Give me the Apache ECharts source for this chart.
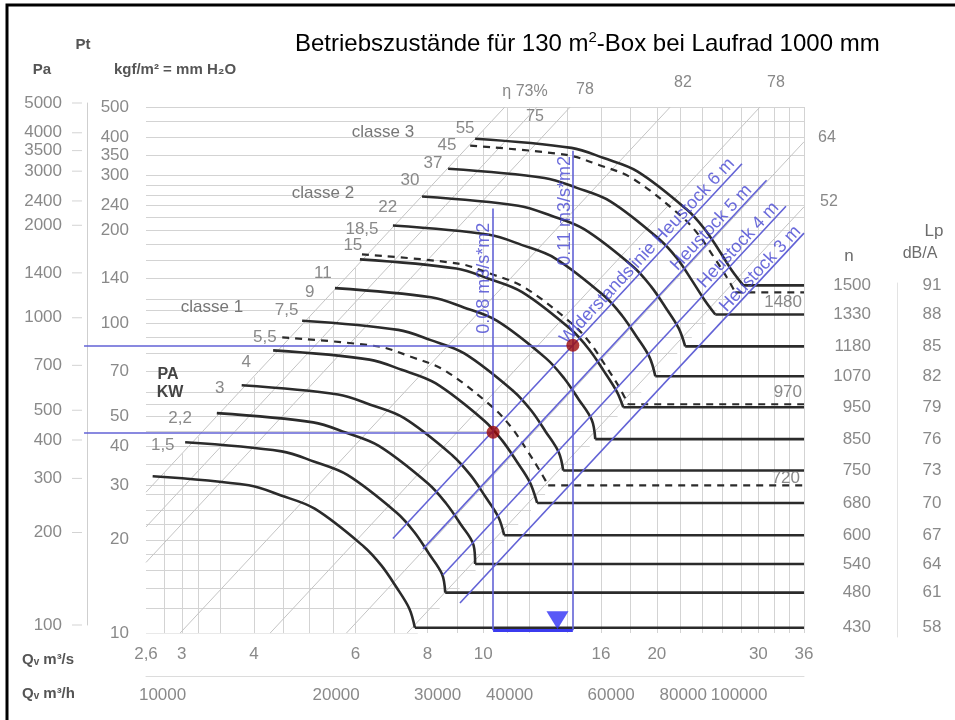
<!DOCTYPE html>
<html>
<head>
<meta charset="utf-8">
<script src="https://cdn.jsdelivr.net/npm/echarts@6.0.0/dist/echarts.min.js"></script>
<style>
html,body{margin:0;padding:0;background:#fff;}
#chart{width:955px;height:720px;}
</style>
</head>
<body>
<div id="chart"></div>
<script>
// ---------------- axis ranges & tick labels ----------------
const qRange = [2.6, 36];          // Qv m³/s (log)
const pRange = [10, 500];          // Pt kgf/m² (log)
const paRange = [100, 5000];       // Pt Pa (log)
const qTicks = [2.6, 3, 4, 6, 8, 10, 16, 20, 30, 36];
const qhTicks = [10000, 20000, 30000, 40000, 60000, 80000, 100000];
const kgfTicks = [10, 20, 30, 40, 50, 70, 100, 140, 200, 240, 300, 350, 400, 500];
const paTicks = [100, 200, 300, 400, 500, 700, 1000, 1400, 2000, 2400, 3000, 3500, 4000, 5000];

// ---------------- background grid ----------------
const gridQ    = [2.8, 3, 3.2, 3.5, 4, 4.5, 5, 5.5, 6, 7, 8, 9, 10, 11, 12, 14, 16, 18, 20, 22, 24, 26, 28, 30, 32, 34, 36];
const gridQTop = [33, 38, 43, 51, 67, 85, 105, 127, 151, 206, 269, 340, 420, 500, 500, 500, 500, 500, 500, 500, 500, 500, 500, 500, 500, 500, 500];
const gridP    = [10, 12, 14, 16, 18, 20, 22.5, 25, 28, 30, 35, 40, 45, 50, 55, 60, 70, 80, 90, 100, 110, 120, 140, 160, 180, 200, 220, 240, 260, 280, 300, 350, 400, 450, 500];
const gridPEnd = [7.7, 8.4, 9.1, 9.7, 10.3, 10.9, 11.5, 12.1, 12.8, 13.3, 14.4, 15.3, 16.3, 17.1, 18.0, 18.8, 20.3, 21.7, 23.0, 24.3, 25.4, 26.6, 28.7, 30.7, 32.5, 34.3, 36, 36, 36, 36, 36, 36, 36, 36, 36];

// ---------------- efficiency lines (grey diagonals) ----------------
const effNames = ['η 73%', '75', '78', '82', '78', '64', '52'];
const effQ1 = [2.6, 2.6, 2.6, 2.98, 4.27, 5.79, 7.38];
const effP1 = [28.5, 22.0, 16.9, 10, 10, 10, 10];
const effQ2 = [10.9, 12.4, 14.15, 21.1, 30.2, 36, 36];
const effP2 = [500, 500, 500, 500, 500, 386, 238];

// ---------------- fan curves: Qv [m³/s], Pt [kgf/m²] ----------------
const q1500 = [9.68, 14.22, 16.18, 18.50, 22.50, 24.16, 25.60, 26.99, 28.25];
const p1500 = [395, 369, 342, 310, 234, 202.5, 173, 148.2, 132.7];
const q1480 = [9.49, 13.94, 15.87, 18.14, 22.05, 23.69, 25.10, 26.46, 27.36];
const p1480 = [375, 350, 325, 294, 222, 192.2, 164, 140.7, 125.9];
const q1330 = [8.69, 12.77, 14.53, 16.61, 20.20, 21.69, 22.99, 24.23, 25.26];
const p1330 = [316, 295, 274, 248, 187, 162.0, 138, 118.6, 106.9];
const q1180 = [7.83, 11.50, 13.09, 14.96, 18.20, 19.54, 20.71, 21.83, 22.40];
const p1180 = [257, 240, 223, 201.5, 152.4, 131.7, 112.6, 96.4, 84.3];
const q1070 = [6.97, 10.24, 11.65, 13.32, 16.20, 17.40, 18.44, 19.43, 19.88];
const p1070 = [207, 193.3, 179.3, 162.3, 122.8, 106.1, 90.7, 77.7, 67.5];
const q970  = [6.16, 9.05, 10.30, 11.77, 14.32, 15.38, 16.29, 17.17, 17.84];
const p970  = [167, 156, 144.6, 130.9, 99.0, 85.6, 73.1, 62.7, 54.8];
const q950  = [6.11, 8.98, 10.22, 11.68, 14.20, 15.25, 16.16, 17.03, 17.49];
const p950  = [161, 150.4, 139.4, 126.2, 95.5, 82.5, 70.5, 60.4, 53.6];
const q850  = [5.53, 8.12, 9.25, 10.57, 12.85, 13.80, 14.63, 15.42, 15.64];
const p850  = [130, 121.4, 112.6, 101.9, 77.1, 66.6, 56.9, 48.8, 42.3];
const q750  = [4.85, 7.12, 8.11, 9.27, 11.27, 12.11, 12.83, 13.52, 13.76];
const p750  = [102, 95.3, 88.3, 80.0, 60.5, 52.3, 44.7, 38.3, 33.5];
const q720  = [4.48, 6.58, 7.49, 8.56, 10.41, 11.18, 11.85, 12.49, 12.96];
const p720  = [90.1, 84.2, 78.0, 70.6, 53.4, 46.2, 39.5, 33.8, 30.0];
const q680  = [4.32, 6.35, 7.22, 8.26, 10.04, 10.78, 11.43, 12.04, 12.40];
const p680  = [81.8, 76.4, 70.8, 64.1, 48.5, 41.9, 35.8, 30.7, 26.3];
const q600  = [3.81, 5.60, 6.37, 7.28, 8.85, 9.51, 10.08, 10.62, 10.87];
const p600  = [63.1, 58.9, 54.6, 49.5, 37.4, 32.3, 27.6, 23.7, 20.7];
const q540  = [3.45, 5.07, 5.77, 6.59, 8.02, 8.61, 9.13, 9.62, 9.68];
const p540  = [51.3, 47.9, 44.4, 40.2, 30.4, 26.3, 22.5, 19.2, 16.7];
const q480  = [3.04, 4.47, 5.08, 5.81, 7.07, 7.59, 8.04, 8.48, 8.59];
const p480  = [41.3, 38.6, 35.8, 32.4, 24.5, 21.2, 18.1, 15.5, 13.5];
const q430  = [2.67, 3.92, 4.46, 5.10, 6.21, 6.66, 7.06, 7.44, 7.61];
const p430  = [32.1, 30.0, 27.8, 25.2, 19.0, 16.5, 14.1, 12.0, 10.4];

const speeds  = [1500, 1480, 1330, 1180, 1070, 970, 950, 850, 750, 720, 680, 600, 540, 480, 430];
const dashedSpeeds = [1480, 970, 720];
const lpValues = {1500: 91, 1330: 88, 1180: 85, 1070: 82, 950: 79, 850: 76, 750: 73, 680: 70, 600: 67, 540: 64, 480: 61, 430: 58};

// motor power labels (kW) placed along the class boundary
const kwNames = ['55', '45', '37', '30', '22', '18,5', '15', '11', '9', '7,5', '5,5', '4', '3', '2,2', '1,5'];
const kwQ = [9.30, 8.65, 8.18, 7.46, 6.83, 6.16, 5.94, 5.27, 5.00, 4.56, 4.18, 3.88, 3.49, 2.98, 2.78];
const kwP = [426, 375, 330, 289, 238, 202, 179, 145, 126, 110, 90.1, 74.8, 61.7, 49.4, 40.4];

// ---------------- system (resistance) lines, blue ----------------
const sysNames = ['Widerstandslinie Heustock 6 m', 'Heustock 5 m', 'Heustock 4 m', 'Heustock 3 m'];
const sysQ1 = [6.97, 7.86, 8.51, 9.11];
const sysP1 = [20.2, 18.7, 15.4, 12.5];
const sysQ2 = [28.1, 31.0, 33.5, 36];
const sysP2 = [328, 290, 239, 195.7];
const sysLabelQ = [19.25, 24.86, 27.7, 30.24];
const sysLabelP = [171, 204, 179, 150];

// operating points
const opQ = [10.4, 14.3];           // 0.08 and 0.11 m3/s*m2 x 130 m2
const opP = [44.5, 85];
const opNames = ['0.08 m3/s*m2', '0.11 m3/s*m2'];
const opLineTop = [235, 361];
const opLabelQ = [10.03, 13.87];
const opLabelP = [140, 231];
const refQStart = 2.03;             // blue horizontals start at the Pa scale
const baseP = 10.2;
const markerQ = 13.45, markerP = 11.0;

// ---------------- build option ----------------
const curveQ = {1500:q1500,1480:q1480,1330:q1330,1180:q1180,1070:q1070,970:q970,950:q950,850:q850,750:q750,720:q720,680:q680,600:q600,540:q540,480:q480,430:q430};
const curveP = {1500:p1500,1480:p1480,1330:p1330,1180:p1180,1070:p1070,970:p970,950:p950,850:p850,750:p750,720:p720,680:p680,600:p600,540:p540,480:p480,430:p430};

const FONT = 'Liberation Sans, Arial, Helvetica, sans-serif';
const GREY = '#6c6c6c';
const BLUE_LINE = '#6262d6';
const BLUE_TEXT = '#4646d2';

function lbl(extra) {
  return Object.assign({show: true, position: 'inside', formatter: '{b}', color: GREY, fontSize: 17, fontFamily: FONT}, extra);
}
function labelSeries(data, label, extra) {
  return Object.assign({
    type: 'scatter', symbolSize: 1, silent: true, clip: false, z: 6,
    itemStyle: {color: 'rgba(0,0,0,0)'}, label: label, data: data,
    xAxisIndex: 0, yAxisIndex: 0
  }, extra || {});
}

const series = [];

// grid
series.push({
  type: 'lines', coordinateSystem: 'cartesian2d', xAxisIndex: 0, yAxisIndex: 0, silent: true, z: 1,
  lineStyle: {color: '#d3d3d3', width: 1, opacity: 1},
  data: gridQ.map((q, i) => ({coords: [[q, pRange[0]], [q, gridQTop[i]]]}))
    .concat(gridP.map((p, i) => ({coords: [[qRange[0], p], [gridPEnd[i], p]]})))
});
// efficiency lines
series.push({
  type: 'lines', coordinateSystem: 'cartesian2d', xAxisIndex: 0, yAxisIndex: 0, silent: true, z: 1,
  lineStyle: {color: '#c4c4c4', width: 1, opacity: 1},
  data: effQ1.map((q, i) => ({coords: [[q, effP1[i]], [effQ2[i], effP2[i]]]}))
});

// fan curves
speeds.forEach(n => {
  const dashed = dashedSpeeds.indexOf(n) >= 0;
  const qs = curveQ[n], ps = curveP[n];
  const ls = {color: '#2b2b2b', width: dashed ? 2.2 : 2.6, type: dashed ? [7, 6] : 'solid'};
  series.push({
    type: 'line', xAxisIndex: 0, yAxisIndex: 0, smooth: 0.35, showSymbol: false, silent: true, z: 3,
    lineStyle: ls, data: qs.map((q, i) => [q, ps[i]])
  });
  series.push({
    type: 'line', xAxisIndex: 0, yAxisIndex: 0, showSymbol: false, silent: true, z: 3,
    lineStyle: ls, data: [[qs[qs.length - 1], ps[ps.length - 1]], [qRange[1], ps[ps.length - 1]]]
  });
});

// blue system lines + reference lines
series.push({
  type: 'lines', coordinateSystem: 'cartesian2d', xAxisIndex: 0, yAxisIndex: 0, silent: true, z: 4, clip: false,
  lineStyle: {color: BLUE_LINE, width: 1.6, opacity: 1},
  data: sysQ1.map((q, i) => ({coords: [[q, sysP1[i]], [sysQ2[i], sysP2[i]]]}))
    .concat(opQ.map((q, i) => ({coords: [[refQStart, opP[i]], [q, opP[i]]]})))
    .concat(opQ.map((q, i) => ({coords: [[q, baseP], [q, opLineTop[i]]]})))
});
series.push({
  type: 'lines', coordinateSystem: 'cartesian2d', xAxisIndex: 0, yAxisIndex: 0, silent: true, z: 4, clip: false,
  lineStyle: {color: '#3b3bef', width: 3, opacity: 1},
  data: [{coords: [[opQ[0], baseP], [opQ[1], baseP]]}]
});
// operating points
series.push({
  type: 'scatter', xAxisIndex: 0, yAxisIndex: 0, silent: true, z: 7, symbolSize: 13,
  itemStyle: {color: '#9c0a0a'}, data: opQ.map((q, i) => [q, opP[i]])
});
// marker triangle
series.push({
  type: 'scatter', xAxisIndex: 0, yAxisIndex: 0, silent: true, z: 7, symbol: 'triangle', symbolRotate: 180,
  symbolSize: [22, 18], itemStyle: {color: '#2f2ff5'}, data: [[markerQ, markerP]]
});

// tick labels
series.push(labelSeries(qTicks.map(q => ({name: String(q).replace('.', ','), value: [q, pRange[0]]})),
  lbl({offset: [0, 21]})));
series.push(labelSeries(qhTicks.map(v => ({name: String(v), value: [v, pRange[0]]})),
  lbl({offset: [0, 62]}), {xAxisIndex: 1}));
series.push(labelSeries(kgfTicks.map(v => ({name: String(v), value: [qRange[0], v]})),
  lbl({offset: [-17, 0], align: 'right'})));
series.push(labelSeries(paTicks.map(v => ({name: String(v), value: [0, v]})),
  lbl({offset: [-25, 0], align: 'right'}), {xAxisIndex: 2, yAxisIndex: 1}));
// Pa tick marks
series.push({
  type: 'scatter', xAxisIndex: 2, yAxisIndex: 1, silent: true, symbol: 'rect', symbolSize: [10, 1],
  symbolOffset: [-10, 0], itemStyle: {color: '#c8c8c8'}, data: paTicks.map(v => [0, v])
});

// speed n and Lp labels (right)
const solid = speeds.filter(n => dashedSpeeds.indexOf(n) < 0);
series.push(labelSeries(solid.map(n => ({name: String(n), value: [qRange[1], curveP[n][curveP[n].length - 1]]})),
  lbl({offset: [67, 0], align: 'right'})));
series.push(labelSeries(solid.map(n => ({name: String(lpValues[n]), value: [qRange[1], curveP[n][curveP[n].length - 1]]})),
  lbl({offset: [128, 0]})));
const dashOffsets = {1480: [-2, 10], 970: [-2, -12], 720: [-4, -7]};
dashedSpeeds.forEach(n => {
  series.push(labelSeries([{name: String(n), value: [qRange[1], curveP[n][curveP[n].length - 1]]}],
    lbl({offset: dashOffsets[n], align: 'right'})));
});

// kW labels
series.push(labelSeries(kwNames.map((s, i) => ({name: s, value: [kwQ[i], kwP[i]]})), lbl({})));

// blue texts
series.push(labelSeries(sysNames.map((s, i) => ({name: s, value: [sysLabelQ[i], sysLabelP[i]]})),
  lbl({rotate: 47, color: BLUE_TEXT, fontSize: 18})));
series.push(labelSeries(opNames.map((s, i) => ({name: s, value: [opLabelQ[i], opLabelP[i]]})),
  lbl({rotate: 90, color: BLUE_TEXT, fontSize: 18})));

function txt(x, y, s, o) {
  o = o || {};
  return {
    type: 'text', x: x, y: y, silent: true, z: 10,
    style: {
      text: s, fill: o.fill || GREY,
      font: (o.bold ? 'bold ' : '') + (o.size || 17) + 'px ' + FONT,
      align: o.align || 'center', textAlign: o.align || 'center',
      verticalAlign: 'middle', textVerticalAlign: 'middle'
    }
  };
}

const option = {
  animation: false,
  backgroundColor: '#ffffff',
  title: {
    text: '{a|Betriebszustände für 130 m}{s|2}{a|-Box bei Laufrad 1000 mm}',
    left: 290, top: 25,
    textStyle: {
      fontWeight: 'normal',
      rich: {
        a: {fontSize: 24, fontFamily: FONT, fontWeight: 'normal', color: '#000', lineHeight: 28},
        s: {fontSize: 15, fontFamily: FONT, fontWeight: 'normal', color: '#000', verticalAlign: 'top', lineHeight: 28}
      }
    }
  },
  grid: [
    {left: 146, right: 151, top: 107, bottom: 87},
    {left: 87, width: 1, top: 103, bottom: 95},
    {left: 897, width: 1, top: 283, bottom: 83}
  ],
  xAxis: [
    {gridIndex: 0, type: 'log', logBase: 10, min: qRange[0], max: qRange[1],
      axisLine: {show: false}, axisTick: {show: false}, axisLabel: {show: false}, splitLine: {show: false}},
    {gridIndex: 0, type: 'log', logBase: 10, min: qRange[0] * 3600, max: qRange[1] * 3600, position: 'bottom', offset: 43,
      axisLine: {show: true, lineStyle: {color: '#dcdcdc'}}, axisTick: {show: false}, axisLabel: {show: false}, splitLine: {show: false}},
    {gridIndex: 1, type: 'value', min: 0, max: 1, show: false},
    {gridIndex: 2, type: 'value', min: 0, max: 1, show: false}
  ],
  yAxis: [
    {gridIndex: 0, type: 'log', logBase: 10, min: pRange[0], max: pRange[1],
      axisLine: {show: false}, axisTick: {show: false}, axisLabel: {show: false}, splitLine: {show: false}},
    {gridIndex: 1, type: 'log', logBase: 10, min: paRange[0], max: paRange[1],
      axisLine: {show: true, lineStyle: {color: '#cfcfcf'}}, axisTick: {show: false}, axisLabel: {show: false}, splitLine: {show: false}},
    {gridIndex: 2, type: 'log', logBase: 10, min: pRange[0], max: pRange[1],
      axisLine: {show: true, lineStyle: {color: '#e3e3e3'}}, axisTick: {show: false}, axisLabel: {show: false}, splitLine: {show: false}}
  ],
  graphic: [
    {type: 'rect', silent: true, shape: {x: 7, y: 5, width: 990, height: 760}, style: {fill: 'none', stroke: '#000', lineWidth: 3}},
    txt(83, 45, 'Pt', {bold: true, size: 15, fill: '#555'}),
    txt(42, 70, 'Pa', {bold: true, size: 15, fill: '#555'}),
    txt(175, 70, 'kgf/m² = mm H₂O', {bold: true, size: 15, fill: '#555'}),
    txt(22, 660, 'Qᵥ m³/s', {bold: true, size: 15, fill: '#555', align: 'left'}),
    txt(22, 694, 'Qᵥ m³/h', {bold: true, size: 15, fill: '#555', align: 'left'}),
    txt(849, 256, 'n'),
    txt(934, 231, 'Lp'),
    txt(920, 254, 'dB/A', {size: 16}),
    txt(168, 375, 'PA', {bold: true, size: 16, fill: '#444'}),
    txt(170, 393, 'KW', {bold: true, size: 16, fill: '#444'}),
    txt(212, 307, 'classe 1', {fill: '#777'}),
    txt(323, 193, 'classe 2', {fill: '#777'}),
    txt(383, 132, 'classe 3', {fill: '#777'}),
    txt(525, 92, effNames[0], {size: 16, fill: '#888'}),
    txt(535, 117, effNames[1], {size: 16, fill: '#888'}),
    txt(585, 90, effNames[2], {size: 16, fill: '#888'}),
    txt(683, 83, effNames[3], {size: 16, fill: '#888'}),
    txt(776, 83, effNames[4], {size: 16, fill: '#888'}),
    txt(827, 138, effNames[5], {size: 16, fill: '#888'}),
    txt(829, 202, effNames[6], {size: 16, fill: '#888'})
  ],
  series: series
};

const chart = echarts.init(document.getElementById('chart'), null, {renderer: 'canvas'});
chart.setOption(option);
</script>
</body>
</html>
